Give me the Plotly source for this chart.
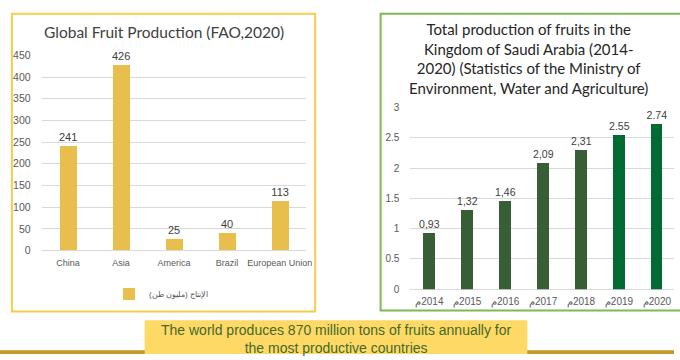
import plotly.graph_objects as go

W, H = 680, 360

# Global fruit production (FAO, 2020), million tons
regions = ["China", "Asia", "America", "Brazil", "European Union"]
production = [241, 426, 25, 40, 113]
legend_label = "الإنتاج (مليون طن)"

# Total fruit production in Saudi Arabia, million tons
years = [2014, 2015, 2016, 2017, 2018, 2019, 2020]
ksa_production = [0.93, 1.32, 1.46, 2.09, 2.31, 2.55, 2.74]
ksa_labels = ["0,93", "1,32", "1,46", "2,09", "2,31", "2.55", "2.74"]
# left-to-right override keeps the Arabic "م" in front of the year
year_labels = ["\u202dم" + str(y) + "\u202c" for y in years]

left_title = "Global Fruit Production (FAO,2020)"
right_title = ("Total production of fruits in the<br>Kingdom of Saudi Arabia (2014-<br>"
               "2020) (Statistics of the Ministry of<br>Environment, Water and Agriculture)")
banner_text = ("The world produces 870 million tons of fruits annually for<br>"
               "the most productive countries")

GOLD = "#E8BE4C"
DARK_GREEN = "#375E35"
BRIGHT_GREEN = "#006B33"
GRID = "#D9D9D9"
TICK = "#595959"
TITLE_FONT = "Lato, 'Open Sans', sans-serif"
BODY_FONT = "Arial, 'Liberation Sans', sans-serif"


def px_x(x):
    return x / W


def px_y(y):
    return 1 - y / H


ksa_colors = [BRIGHT_GREEN if y >= 2019 else DARK_GREEN for y in years]

fig = go.Figure()

fig.add_trace(go.Bar(
    x=regions, y=production, text=production, textposition="outside",
    marker=dict(color=GOLD, line=dict(width=0)), width=0.32,
    textfont=dict(family=BODY_FONT, size=11, color="#404040"),
    constraintext="none", cliponaxis=False, name=legend_label, showlegend=True,
    xaxis="x", yaxis="y",
))

fig.add_trace(go.Bar(
    x=year_labels, y=ksa_production, text=ksa_labels, textposition="outside",
    marker=dict(color=ksa_colors, line=dict(width=0)), width=0.31,
    textfont=dict(family=BODY_FONT, size=10.5, color="#404040"),
    constraintext="none", cliponaxis=False, showlegend=False,
    xaxis="x2", yaxis="y2",
))

axis_common = dict(showline=False, ticks="", fixedrange=True)

fig.update_layout(
    width=W, height=H,
    margin=dict(l=0, r=0, t=0, b=0),
    paper_bgcolor="white", plot_bgcolor="rgba(0,0,0,0)",
    font=dict(family=BODY_FONT, color=TICK),
    xaxis=dict(domain=[px_x(42), px_x(309)], range=[-0.5, 4.5], anchor="y",
               showgrid=False, zeroline=False,
               tickfont=dict(size=9, color=TICK), ticklabelstandoff=5,
               **axis_common),
    yaxis=dict(domain=[px_y(253), px_y(51)], range=[0, 450], dtick=50, anchor="x",
               showgrid=True, gridcolor=GRID, gridwidth=1,
               zeroline=True, zerolinecolor=GRID, zerolinewidth=1,
               tickfont=dict(size=10.5, color=TICK), ticklabelstandoff=10,
               **axis_common),
    xaxis2=dict(domain=[px_x(414), 1], range=[-0.5, 6.45], anchor="y2",
                showgrid=False, zeroline=False,
                tickfont=dict(size=10, color=TICK), ticklabelstandoff=5,
                **axis_common),
    yaxis2=dict(domain=[px_y(293), px_y(105)], range=[0, 3], dtick=0.5, anchor="x2",
                showgrid=True, gridcolor=GRID, gridwidth=1,
                zeroline=True, zerolinecolor=GRID, zerolinewidth=1,
                tickfont=dict(size=10, color=TICK), ticklabelstandoff=10,
                **axis_common),
    bargap=0.0,
    legend=dict(orientation="h", x=px_x(110), y=px_y(298), xanchor="left", yanchor="middle",
                font=dict(size=8, color=TICK), bgcolor="rgba(0,0,0,0)"),
    shapes=[
        # panel frames
        dict(type="rect", xref="paper", yref="paper", layer="below",
             x0=px_x(12), x1=px_x(318), y0=px_y(316), y1=px_y(8),
             line=dict(color="#F8CC4E", width=2), fillcolor="white"),
        dict(type="rect", xref="paper", yref="paper", layer="below",
             x0=px_x(384), x1=px_x(700), y0=px_y(315), y1=px_y(8),
             line=dict(color="#7DB956", width=2), fillcolor="white"),
        # gold strip along the bottom edge
        dict(type="rect", xref="paper", yref="paper", layer="above",
             x0=0, x1=1, y0=0, y1=px_y(356),
             line=dict(width=0), fillcolor="#C39A22"),
        # caption banner
        dict(type="rect", xref="paper", yref="paper", layer="above",
             x0=px_x(146), x1=px_x(532), y0=0, y1=px_y(325),
             line=dict(width=0), fillcolor="#FFD966"),
    ],
    annotations=[
        dict(text=left_title, xref="paper", yref="paper", x=px_x(165), y=px_y(27),
             xanchor="center", yanchor="middle", showarrow=False,
             font=dict(family=TITLE_FONT, size=15.5, color="#404040")),
        dict(text=right_title, xref="paper", yref="paper", x=px_x(533), y=px_y(54),
             xanchor="center", yanchor="middle", showarrow=False, align="center",
             font=dict(family=TITLE_FONT, size=15, color="#262626")),
        dict(text=banner_text, xref="paper", yref="paper", x=px_x(339), y=px_y(344),
             xanchor="center", yanchor="middle", showarrow=False, align="center",
             font=dict(family=BODY_FONT, size=14, color="#44692A")),
    ],
)

fig.write_html("out.html")
